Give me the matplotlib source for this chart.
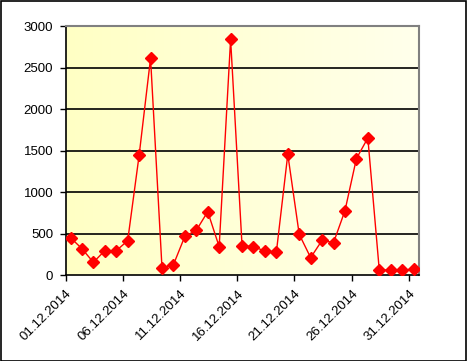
import matplotlib
matplotlib.use("Agg")
import matplotlib.pyplot as plt
import numpy as np
from matplotlib.colors import LinearSegmentedColormap
from matplotlib.patches import Rectangle

plt.rcParams['font.family'] = ['Liberation Sans', 'DejaVu Sans']

days = [f"{d:02d}.12.2014" for d in range(1, 32)]
values = [450, 317, 153, 293, 293, 413, 1442, 2611, 88, 124, 466, 538, 763, 341,
          2840, 353, 341, 289, 273, 1454, 490, 209, 418, 390, 775, 1402, 1651,
          60, 60, 60, 69]
tick_every = 5
y_ticks = [0, 500, 1000, 1500, 2000, 2500, 3000]

W, H = 468, 361
fig = plt.figure(figsize=(W / 100, H / 100), dpi=100)
ax = fig.add_axes([65.7 / W, 1 - 275 / H, (419.3 - 65.7) / W, (275 - 26) / H])

n = len(values)
x = np.arange(n) + 0.42

# gradient background
cmap = LinearSegmentedColormap.from_list('bg', ['#FFFFC4', '#FFFFEC'])
grad = np.linspace(0, 1, 256).reshape(1, -1)
ax.imshow(grad, cmap=cmap, aspect='auto', extent=[0, n - 0.08, 0, 3000],
          zorder=0, interpolation='bilinear')

ax.set_xlim(0, n - 0.08)
ax.set_ylim(0, 3000)

for yt in y_ticks[1:-1]:
    ax.axhline(yt, color='black', lw=1.2, zorder=1)

ax.plot(x, values, color='#FF0000', lw=1.0, marker='D', markersize=6,
        markerfacecolor='#FF0000', markeredgecolor='#FF0000', zorder=3)

ax.set_yticks(y_ticks)
ax.set_yticklabels([str(v) for v in y_ticks], fontsize=9.5)
tick_pos = np.arange(0, n, tick_every)
ax.set_xticks(tick_pos)
ax.set_xticklabels([days[i] for i in tick_pos], rotation=45, ha='right',
                   rotation_mode='anchor', fontsize=9.5)

ax.tick_params(axis='y', direction='out', length=4, width=1, pad=5)
ax.tick_params(axis='x', direction='out', length=4, width=1, pad=5)

ax.spines['left'].set_color('black')
ax.spines['bottom'].set_color('black')
ax.spines['left'].set_linewidth(1.2)
ax.spines['bottom'].set_linewidth(1.2)
ax.spines['top'].set_color('#808080')
ax.spines['right'].set_color('#808080')
ax.spines['top'].set_linewidth(1.5)
ax.spines['right'].set_linewidth(1.5)

fig.patches.append(Rectangle((0.5 / W, 1 - 360.5 / H), 465.5 / W, 360 / H,
                             transform=fig.transFigure, fill=False,
                             edgecolor='black', lw=1.2))

fig.savefig('out.png', dpi=100)
